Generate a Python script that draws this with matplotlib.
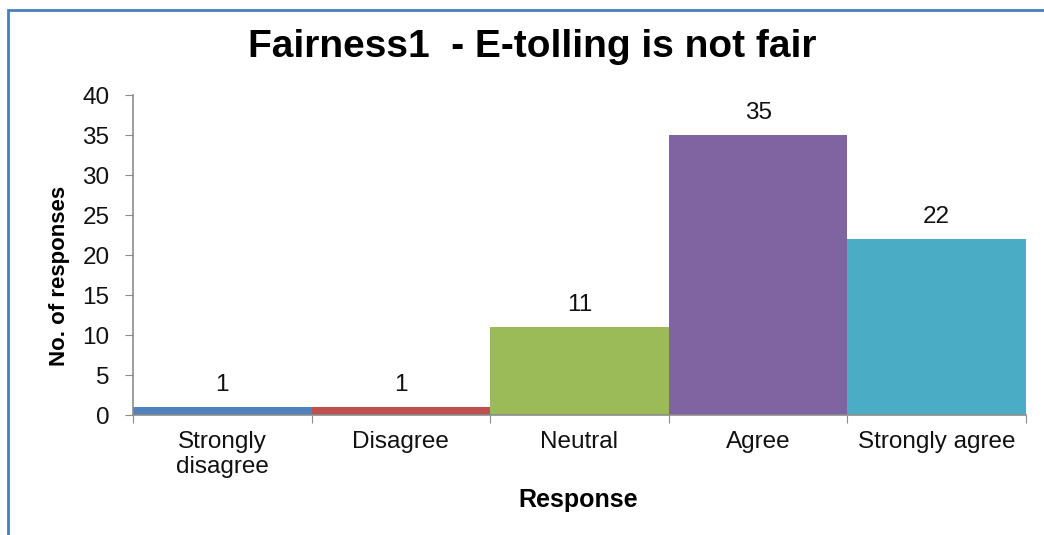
import matplotlib
matplotlib.use("Agg")
from matplotlib import pyplot as plt
from matplotlib.patches import Rectangle

plt.rcParams['font.family'] = ['Liberation Sans', 'DejaVu Sans']

# survey answers
responses = ["Strongly\ndisagree", "Disagree", "Neutral", "Agree", "Strongly agree"]
counts = [1, 1, 11, 35, 22]
bar_colors = ["#4F81BD", "#C0504D", "#9BBB59", "#8064A2", "#4BACC6"]
y_ticks = [0, 5, 10, 15, 20, 25, 30, 35, 40]

W, H = 1044, 535
fig = plt.figure(figsize=(W / 100, H / 100), dpi=100)
ax = fig.add_axes([133 / W, 1 - 415 / H, (1026 - 133) / W, (415 - 95) / H])

positions = list(range(len(counts)))
ax.bar(positions, counts, width=1.0, color=bar_colors, edgecolor="none")
for x, v in zip(positions, counts):
    ax.text(x, v + 1.4, str(v), ha="center", va="bottom", fontsize=17.5, color="#111111")

ax.set_xlim(-0.5, len(counts) - 0.5)
ax.set_ylim(0, 40)
ax.set_yticks(y_ticks)
ax.tick_params(axis="y", labelsize=17.5, length=6, color="#8c8c8c", pad=11,
               labelcolor="#111111")

# category labels sit between the boundary ticks
ax.set_xticks([p - 0.5 for p in positions] + [len(counts) - 0.5])
ax.set_xticklabels([])
ax.tick_params(axis="x", length=6, color="#8c8c8c")
for x, lab in zip(positions, responses):
    ax.text(x, -2.0, lab, ha="center", va="top", fontsize=17.5, color="#111111",
            linespacing=1.15)

for side in ("top", "right"):
    ax.spines[side].set_visible(False)
for side in ("left", "bottom"):
    ax.spines[side].set_color("#8c8c8c")
    ax.spines[side].set_linewidth(1.2)

fig.text(532 / W, 1 - 47 / H, "Fairness1  - E-tolling is not fair",
         ha="center", va="center", fontsize=28, fontweight="bold")
fig.text(60 / W, 1 - 276 / H, "No. of responses", rotation=90,
         ha="center", va="center", fontsize=16, fontweight="bold")
fig.text(578 / W, 1 - 500 / H, "Response", ha="center", va="center",
         fontsize=18, fontweight="bold")

# chart frame running off the right and bottom edges
fig.patches.append(Rectangle((8 / W, -0.1), 1.2, 1.1 - 10 / H, transform=fig.transFigure,
                             fill=False, edgecolor="#4A7EBB", linewidth=2))

fig.savefig("out.png", dpi=100)
